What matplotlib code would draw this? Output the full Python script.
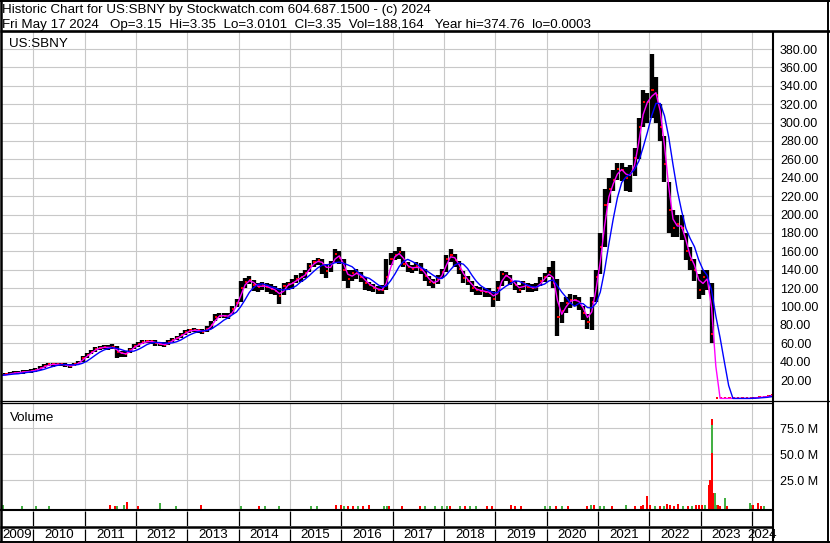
import matplotlib
matplotlib.use("Agg")
import matplotlib.pyplot as plt
import numpy as np
import pandas as pd

plt.rcParams["font.family"] = ["Liberation Sans", "DejaVu Sans"]

# ---- values: monthly bars, May 2009 .. May 2024 ----
first_month = "2009-05"
close = [
    25, 26, 27, 28, 28, 29, 29, 30,                               # 2009
    31, 33, 35, 37, 37, 37, 37, 36, 35, 37, 39, 44,               # 2010
    47, 51, 54, 55, 56, 55, 56, 50, 49, 48, 53, 57,               # 2011
    59, 61, 62, 62, 60, 59, 58, 61, 64, 66, 69, 72,               # 2012
    74, 74, 74, 72, 76, 80, 89, 90, 90, 89, 97, 104,              # 2013
    120, 127, 129, 123, 121, 123, 121, 119, 117, 111, 122, 124,   # 2014
    126, 130, 132, 136, 144, 148, 150, 146, 139, 146, 157, 153,   # 2015
    140, 130, 136, 136, 132, 126, 123, 120, 118, 118, 132, 152,   # 2016
    156, 159, 146, 143, 141, 144, 140, 133, 127, 125, 130, 137,   # 2017
    152, 156, 150, 141, 131, 128, 120, 118, 117, 116, 115, 108,   # 2018
    120, 135, 133, 128, 123, 118, 125, 121, 120, 121, 128, 132,   # 2019
    138, 125, 88, 95, 104, 107, 107, 104, 93, 83, 105, 132,       # 2020
    165, 210, 228, 238, 250, 248, 240, 245, 262, 295, 322, 322,   # 2021
    335, 330, 295, 255, 205, 185, 190, 185, 160, 150, 140, 118,   # 2022
    132, 128, 70, 0, 0, 0, 0, 0, 0, 0, 0, 0,                      # 2023
    0.8, 1.2, 1.6, 2.2, 3.3,                                      # 2024
]
high = [
    27, 28, 29, 30, 30, 31, 31, 32,
    33, 35, 37, 39, 39, 39, 39, 38, 37, 39, 41, 46,
    49, 53, 56, 57, 58, 58, 59, 57, 52, 52, 55, 59,
    61, 63, 64, 64, 63, 61, 61, 63, 66, 68, 71, 74,
    76, 77, 76, 75, 79, 84, 92, 93, 93, 93, 101, 108,
    128, 131, 133, 129, 126, 127, 126, 124, 122, 120, 125, 127,
    130, 134, 136, 140, 147, 151, 153, 152, 146, 149, 163, 160,
    152, 140, 140, 141, 137, 132, 127, 124, 122, 123, 152, 158,
    160, 165, 160, 148, 145, 148, 147, 141, 133, 130, 134, 141,
    156, 163, 157, 149, 139, 133, 128, 122, 121, 120, 120, 117,
    128, 139, 138, 134, 128, 123, 128, 126, 124, 125, 132, 136,
    143, 149, 130, 105, 110, 114, 112, 110, 100, 92, 110, 140,
    180, 228, 240, 248, 256, 256, 252, 254, 272, 305, 335, 332,
    375, 350, 320, 285, 235, 205, 200, 200, 180, 165, 152, 135,
    140, 140, 125, 0, 0, 0, 0, 0, 0, 0, 0, 0,
    1.2, 1.6, 2.0, 2.8, 3.4,
]
low = [
    24, 25, 26, 27, 27, 27, 28, 28,
    29, 31, 33, 35, 34, 35, 35, 34, 33, 35, 37, 40,
    44, 48, 51, 53, 54, 53, 54, 44, 45, 45, 49, 54,
    56, 59, 60, 59, 57, 57, 56, 58, 61, 63, 66, 69,
    71, 72, 71, 70, 72, 76, 84, 87, 87, 86, 92, 99,
    105, 120, 124, 117, 116, 118, 116, 114, 112, 103, 113, 118,
    119, 125, 127, 131, 137, 143, 145, 135, 131, 137, 148, 146,
    128, 120, 128, 130, 127, 118, 117, 116, 114, 114, 118, 145,
    150, 152, 143, 137, 136, 139, 135, 128, 122, 120, 124, 131,
    138, 148, 143, 135, 126, 123, 116, 113, 112, 110, 110, 99,
    106, 122, 128, 123, 118, 115, 118, 116, 116, 117, 122, 127,
    132, 120, 68, 82, 93, 98, 100, 96, 85, 76, 74, 105,
    135, 165, 212, 226, 238, 236, 226, 225, 242, 260, 295, 300,
    305, 300, 280, 235, 180, 175, 175, 172, 150, 140, 128, 108,
    112, 118, 60, 0, 0, 0, 0, 0, 0, 0, 0, 0,
    0.5, 0.9, 1.2, 1.8, 2.6,
]

# weekly volume bars that stand out in the volume pane (millions of shares)
vol_when = [
    2009.40, 2009.78, 2010.05, 2010.31, 2011.49, 2011.59, 2011.63, 2011.77,
    2011.82, 2012.04, 2012.47, 2012.78, 2013.27, 2014.04, 2014.39, 2014.51,
    2014.78, 2015.41, 2015.53, 2015.90, 2015.99, 2016.05, 2016.13, 2016.23,
    2016.32, 2016.42, 2016.54, 2016.83, 2016.89, 2016.93, 2017.18, 2017.53,
    2017.63, 2017.82, 2017.96, 2018.06, 2018.12, 2018.31, 2018.41, 2018.51,
    2018.62, 2018.84, 2018.93, 2019.30, 2019.38, 2019.50, 2019.96, 2020.06,
    2020.18, 2020.29, 2020.41, 2020.78, 2020.86, 2020.92, 2021.03, 2021.11,
    2021.27, 2021.54, 2021.72, 2021.83, 2021.87, 2021.95, 2022.01, 2022.11,
    2022.21, 2022.28, 2022.34, 2022.40, 2022.48, 2022.55, 2022.65, 2022.75,
    2022.83, 2022.90, 2022.96, 2023.02, 2023.08, 2023.15, 2023.18, 2023.21,
    2023.21, 2023.21, 2023.24, 2023.27, 2023.29, 2023.33, 2023.37, 2023.47,
    2023.51, 2023.95, 2023.98, 2024.02, 2024.12, 2024.17, 2024.23,
]
vol_mil = [
    1.3, 0.3, 0.3, 0.3, 1.3, 0.4, 0.3, 1.2,
    4.5, 0.3, 3.6, 0.3, 1.4, 0.3, 0.3, 0.3,
    0.3, 0.3, 0.3, 1.2, 0.8, 0.5, 0.5, 0.3,
    0.3, 0.3, 1.0, 0.6, 0.5, 0.3, 0.3, 0.3,
    0.3, 0.3, 0.3, 0.3, 0.3, 0.3, 0.3, 0.3,
    0.3, 0.3, 0.3, 1.2, 0.3, 0.3, 0.3, 0.3,
    0.3, 0.3, 0.3, 0.6, 1.0, 1.2, 0.5, 0.6,
    0.5, 1.0, 0.3, 0.6, 1.5, 10.0, 0.8, 0.5,
    0.5, 0.3, 2.7, 0.8, 0.5, 2.0, 0.5, 0.5,
    0.5, 0.8, 1.0, 0.8, 1.0, 20.5, 25.0, 84.0,
    78.0, 51.0, 13.0, 12.5, 1.5, 0.8, 0.5, 8.4,
    0.5, 3.6, 1.5, 0.8, 3.0, 0.5, 0.3,
]
vol_up = [
    1, 1, 1, 1, 0, 0, 1, 1,
    0, 0, 1, 1, 0, 1, 0, 1,
    1, 1, 1, 0, 0, 1, 0, 0,
    1, 0, 0, 1, 1, 0, 0, 0,
    1, 1, 1, 1, 0, 1, 0, 1,
    1, 0, 0, 0, 0, 0, 1, 1,
    0, 1, 0, 0, 1, 0, 1, 1,
    0, 1, 0, 0, 0, 0, 0, 1,
    0, 1, 0, 0, 0, 0, 1, 0,
    1, 0, 0, 0, 1, 0, 0, 0,
    1, 0, 0, 1, 1, 0, 0, 1,
    0, 1, 1, 0, 0, 0, 1,
]

years = list(range(2009, 2025))
price_ticks = list(range(20, 400, 20))
vol_ticks = [25, 50, 75]

title = "Historic Chart for US:SBNY by Stockwatch.com 604.687.1500 - (c) 2024"
quote = ("Fri May 17 2024   Op=3.15  Hi=3.35  Lo=3.0101  Cl=3.35  "
         "Vol=188,164   Year hi=374.76  lo=0.0003")

# ---- layout (pixels) ----
W, H = 830, 543
fig = plt.figure(figsize=(W / 100, H / 100), dpi=100)


def px_axes(x0, y0, x1, y1, **kw):
    return fig.add_axes([x0 / W, 1 - y1 / H, (x1 - x0) / W, (y1 - y0) / H], **kw)


AX_L, AX_R = 1, 773
x_lo = 2010 + (AX_L - 33.3) / 51.35
x_hi = 2010 + (AX_R - 33.3) / 51.35
grid_kw = dict(color="#c8c8c8", lw=0.8)
txt_kw = dict(fontsize=9.65, color="black")
tick_fs = 9.0

months = pd.period_range(first_month, periods=len(close), freq="M")
t = np.asarray(months.year + (months.month - 0.5) / 12, dtype=float)
s = pd.Series(close, dtype=float)
ma_fast = s.rolling(2, min_periods=1).mean()
ma_slow = s.rolling(5, min_periods=1).mean()

# price pane
ax = px_axes(AX_L, 32, AX_R, 400)
ax.set_xlim(x_lo, x_hi)
ax.set_ylim(-1.74, 398.5)
ax.vlines(t, low, high, color="black", lw=3.1, zorder=3)
ax.hlines(close, t - 0.004, t + 0.04, color="red", lw=1.4, zorder=4)
ax.plot(t, ma_fast, color="#ff00ff", lw=1.0, zorder=5)
ax.plot(t, ma_slow, color="#0000ff", lw=1.0, zorder=6)
ax.set_yticks(price_ticks)
ax.set_yticklabels([f"{v:.2f}" for v in price_ticks])
ax.set_xticks(years[1:])
ax.set_xticklabels([])
ax.yaxis.tick_right()
ax.tick_params(length=0, labelsize=tick_fs, pad=5)
ax.grid(True, **grid_kw)
ax.set_axisbelow(True)
for sp in ax.spines.values():
    sp.set_visible(False)
ax.text(0.01, 0.985, "US:SBNY", transform=ax.transAxes, va="top", ha="left", **txt_kw)

# volume pane
vlo = -2.3
axv = px_axes(AX_L, 403.5, AX_R, 508.7)
axv.set_xlim(x_lo, x_hi)
axv.set_ylim(vlo, 99.0)
vcol = ["#44b044" if u else "#ff0000" for u in vol_up]
axv.bar(vol_when, np.array(vol_mil) - vlo, bottom=vlo, width=0.04,
        color=vcol, linewidth=0, zorder=3)
axv.set_yticks(vol_ticks)
axv.set_yticklabels([f"{v:.1f} M" for v in vol_ticks])
axv.set_xticks(years[1:])
axv.set_xticklabels([])
axv.yaxis.tick_right()
axv.tick_params(length=0, labelsize=tick_fs, pad=5)
axv.grid(True, **grid_kw)
axv.set_axisbelow(True)
for sp in axv.spines.values():
    sp.set_visible(False)
axv.text(0.011, 0.92, "Volume", transform=axv.transAxes, va="top", ha="left", **txt_kw)

# empty box row and year row
for y0, y1, labels in [(510.5, 526, False), (528.5, 541, True)]:
    a = px_axes(AX_L, y0, AX_R, y1)
    a.set_xlim(x_lo, x_hi)
    a.set_ylim(0, 1)
    a.axis("off")
    a.vlines(years[1:], 0, 1, color="black", lw=0.9)
    if labels:
        for yr in years:
            c = (max(yr, x_lo) + min(yr + 1, x_hi)) / 2
            a.text(c, 0.45, str(yr), ha="center", va="center", **txt_kw)

# frame lines and header, drawn in pixel coordinates
fr = fig.add_axes([0, 0, 1, 1], zorder=10)
fr.set_xlim(0, W)
fr.set_ylim(H, 0)
fr.axis("off")
line_kw = dict(color="black")
fr.hlines(0.7, 0, W, lw=1.4, **line_kw)
fr.hlines(541.8, 0, W, lw=1.4, **line_kw)
fr.vlines(0.8, 0, H, lw=1.8, **line_kw)
fr.vlines(828.3, 0, H, lw=1.4, **line_kw)
fr.hlines(30.7, 0, W, lw=1.9, **line_kw)
fr.hlines(400.6, 0, W, lw=0.9, **line_kw)
fr.hlines(402.6, 0, AX_R, lw=0.9, **line_kw)
fr.hlines(509.6, 0, AX_R, lw=1.5, **line_kw)
fr.hlines(527.3, 0, AX_R, lw=1.8, **line_kw)
fr.vlines(773.3, 31, H, lw=1.5, **line_kw)
fr.text(2, 13.3, title, va="baseline", ha="left", **txt_kw)
fr.text(2, 27.7, quote, va="baseline", ha="left", **txt_kw)

fig.savefig("out.png", dpi=100)
